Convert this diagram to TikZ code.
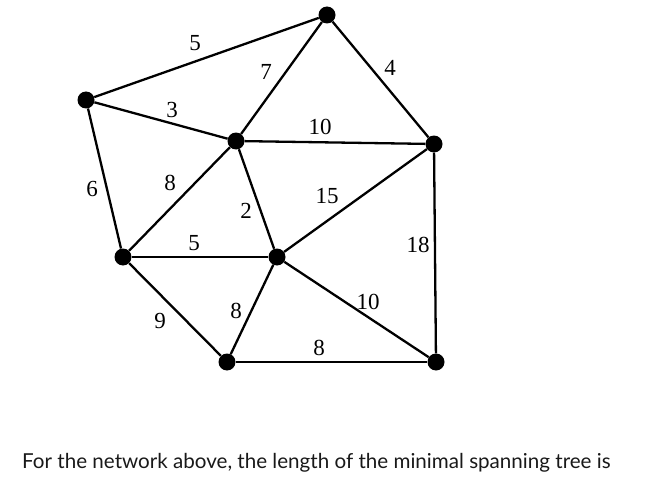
\documentclass[tikz,border=0pt]{standalone}
\usepackage{fontspec}
\setmainfont{Liberation Serif}
\newfontfamily\latofont{Lato}
\begin{document}
\begin{tikzpicture}[x=1pt,y=-1pt,
  vert/.style={circle,fill=black,inner sep=0pt,minimum size=17pt},
  edge/.style={line width=2.3pt},
  wt/.style={font=\fontsize{23}{23}\selectfont,inner sep=0pt}]
\useasboundingbox (0,0) rectangle (662,487);
\node[vert] (A) at (327,15) {};
\node[vert] (B) at (86,100) {};
\node[vert] (C) at (236,141) {};
\node[vert] (D) at (434,144) {};
\node[vert] (E) at (123,257) {};
\node[vert] (F) at (277,257) {};
\node[vert] (G) at (227,362) {};
\node[vert] (H) at (436,362) {};
\draw[edge] (B) -- (A);
\draw[edge] (B) -- (C);
\draw[edge] (C) -- (A);
\draw[edge] (A) -- (D);
\draw[edge] (C) -- (D);
\draw[edge] (B) -- (E);
\draw[edge] (C) -- (E);
\draw[edge] (C) -- (F);
\draw[edge] (F) -- (D);
\draw[edge] (D) -- (H);
\draw[edge] (E) -- (F);
\draw[edge] (E) -- (G);
\draw[edge] (G) -- (F);
\draw[edge] (F) -- (H);
\draw[edge] (G) -- (H);
\node[wt] (wBA) at (195,43) {5};
\node[wt] (wCA) at (266,72) {7};
\node[wt] (wBC) at (172,110) {3};
\node[wt] (wAD) at (390,68) {4};
\node[wt] (wCD) at (320,127) {10};
\node[wt] (wBE) at (92,189) {6};
\node[wt] (wCE) at (170,183) {8};
\node[wt] (wCF) at (246,211) {2};
\node[wt] (wFD) at (327,196) {15};
\node[wt] (wDH) at (418,245) {18};
\node[wt] (wEF) at (194,243) {5};
\node[wt] (wEG) at (160,321) {9};
\node[wt] (wGF) at (236,311) {8};
\node[wt] (wFH) at (368,302) {10};
\node[wt] (wGH) at (319,348) {8};
\node[anchor=base west,inner sep=0pt,font=\latofont\fontsize{20.6}{20.6}\selectfont,text=black!90] (q) at (22,468) {For the network above, the length of the minimal spanning tree is};
\end{tikzpicture}
\end{document}
